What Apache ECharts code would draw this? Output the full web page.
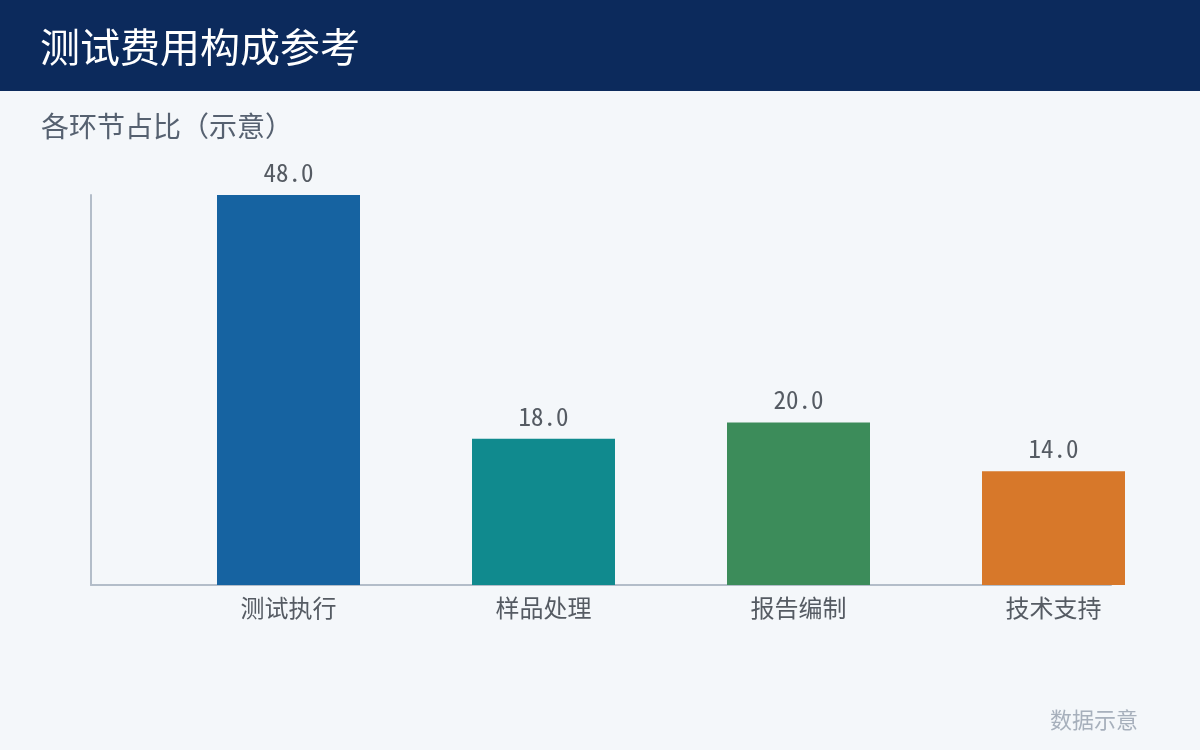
<!DOCTYPE html>
<html>
<head>
<meta charset="utf-8">
<script src="https://cdn.jsdelivr.net/npm/echarts@6/dist/echarts.min.js"></script>
<style>
html,body{margin:0;padding:0;background:#f4f7fa;}
#chart{width:1200px;height:750px;}
</style>
</head>
<body>
<div id="chart"></div>
<script>
const categories = ['测试执行', '样品处理', '报告编制', '技术支持'];
const values = [48.0, 18.0, 20.0, 14.0];
const titleText = '测试费用构成参考';
const subtitleText = '各环节占比（示意）';
const footerText = '数据示意';

const palette = ['#1663A1', '#108A8E', '#3C8C5A', '#D7782A'];
const FONT = '"Noto Sans CJK SC", "Noto Sans", sans-serif';
const NUMFONT = '"Noto Sans Mono CJK SC", "DejaVu Sans Mono", monospace';

const chart = echarts.init(document.getElementById('chart'), null, {renderer: 'canvas'});
chart.setOption({
  backgroundColor: '#f4f7fa',
  animation: false,
  graphic: [
    {type: 'rect', x: 0, y: 0, z: 0, shape: {x: 0, y: 0, width: 1200, height: 91}, style: {fill: '#0c2a5c'}},
    {type: 'text', x: 40, y: 47, z: 5, style: {text: titleText, fill: '#ffffff', font: '40px ' + FONT, textAlign: 'left', textVerticalAlign: 'middle'}},
    {type: 'text', x: 41, y: 126, z: 5, style: {text: subtitleText, fill: '#566170', font: '28px ' + FONT, textAlign: 'left', textVerticalAlign: 'middle'}},
    {type: 'text', x: 1138, y: 720, z: 5, style: {text: footerText, fill: '#a7b0bc', font: '22px ' + FONT, textAlign: 'right', textVerticalAlign: 'middle'}}
  ],
  grid: [
    {left: 91, right: 89, top: 195, bottom: 165},
    {left: 161, right: 19, top: 195, bottom: 165}
  ],
  xAxis: [
    {type: 'category', gridIndex: 0, data: categories,
     axisLine: {show: true, lineStyle: {color: '#b3bdc9', width: 2}},
     axisTick: {show: false}, axisLabel: {show: false}, splitLine: {show: false}},
    {type: 'category', gridIndex: 1, data: categories,
     axisLine: {show: false}, axisTick: {show: false}, splitLine: {show: false},
     axisLabel: {show: true, margin: 11, color: '#555b63', fontSize: 24, fontFamily: FONT}}
  ],
  yAxis: [
    {type: 'value', gridIndex: 0, min: 0, max: 48,
     axisLine: {show: true, lineStyle: {color: '#b3bdc9', width: 2}},
     axisTick: {show: false}, axisLabel: {show: false}, splitLine: {show: false}},
    {type: 'value', gridIndex: 1, min: 0, max: 48, show: false, splitLine: {show: false}}
  ],
  series: [{
    type: 'bar',
    xAxisIndex: 1, yAxisIndex: 1,
    barWidth: 143,
    data: values.map((v, i) => ({value: v, itemStyle: {color: palette[i]}})),
    label: {
      show: true, position: 'top', distance: 10,
      color: '#555b63', fontSize: 25, fontFamily: NUMFONT,
      formatter: p => p.value.toFixed(1)
    }
  }]
});
</script>
</body>
</html>
